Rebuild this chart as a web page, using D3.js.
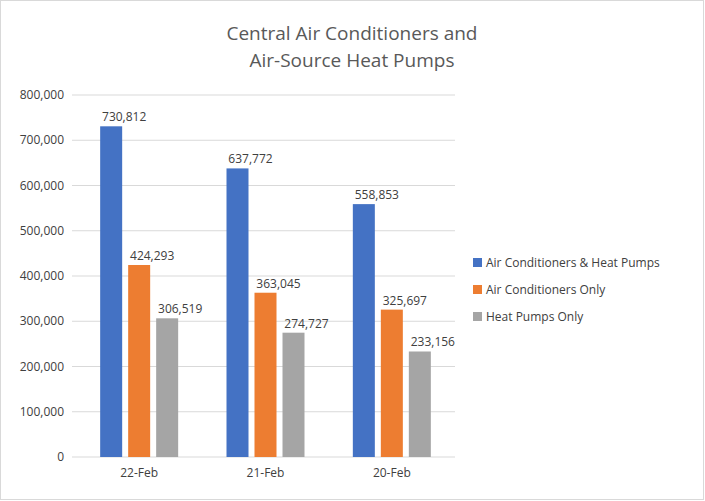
<!DOCTYPE html>
<html><head><meta charset="utf-8">
<script src="https://cdn.jsdelivr.net/npm/d3@7"></script>
<style>body{margin:0;background:#fff}text{font-family:"Open Sans",sans-serif}</style>
</head><body><svg width="705" height="501"></svg>
<script>
const categories=["22-Feb","21-Feb","20-Feb"];
const seriesNames=["Air Conditioners & Heat Pumps","Air Conditioners Only","Heat Pumps Only"];
const acHp=[730812,637772,558853];
const acOnly=[424293,363045,325697];
const hpOnly=[306519,274727,233156];
const yTicks=[0,100000,200000,300000,400000,500000,600000,700000,800000];
const colors=["#4472C4","#ED7D31","#A5A5A5"];
const series=[acHp,acOnly,hpOnly];

const svg=d3.select("svg");
svg.append("rect").attr("x",0.5).attr("y",0.5).attr("width",703).attr("height",499).attr("fill","#fff").attr("stroke","#d9d9d9");
const y=d3.scaleLinear().domain([0,800000]).range([457,95]);
const x=d3.scaleBand().domain(categories).range([76,455]);
const inner=d3.scalePoint().domain([0,1,2]).range([-28,28]);
svg.selectAll(".g").data(yTicks).join("line").attr("x1",72).attr("x2",455)
 .attr("y1",d=>y(d)).attr("y2",d=>y(d)).attr("stroke","#d9d9d9");
svg.selectAll(".yt").data(yTicks).join("text").attr("x",64).attr("y",d=>y(d)+4)
 .attr("text-anchor","end").attr("font-size",12).attr("fill","#404040").text(d3.format(","));
series.forEach((s,i)=>{
 s.forEach((v,j)=>{
  const cx=x(categories[j])+x.bandwidth()/2+inner(i);
  svg.append("rect").attr("x",cx-11).attr("width",22).attr("y",y(v)).attr("height",y(0)-y(v)).attr("fill",colors[i]);
  svg.append("text").attr("x",cx+13).attr("y",y(v)-5).attr("text-anchor","middle").attr("font-size",12).attr("fill","#404040").text(d3.format(",")(v));
 });
});
svg.selectAll(".xt").data(categories).join("text").attr("x",d=>x(d)+x.bandwidth()/2).attr("y",477)
 .attr("text-anchor","middle").attr("font-size",12).attr("fill","#404040").text(d=>d);
seriesNames.forEach((n,i)=>{
 svg.append("rect").attr("x",473).attr("y",258+i*27).attr("width",9).attr("height",9).attr("fill",colors[i]);
 svg.append("text").attr("x",486).attr("y",267+i*27).attr("font-size",12).attr("fill","#404040").text(n);
});
svg.append("text").attr("x",352).attr("y",40).attr("text-anchor","middle").attr("font-size",19).attr("fill","#595959").text("Central Air Conditioners and");
svg.append("text").attr("x",352).attr("y",67).attr("text-anchor","middle").attr("font-size",19).attr("fill","#595959").text("Air-Source Heat Pumps");
</script></body></html>
